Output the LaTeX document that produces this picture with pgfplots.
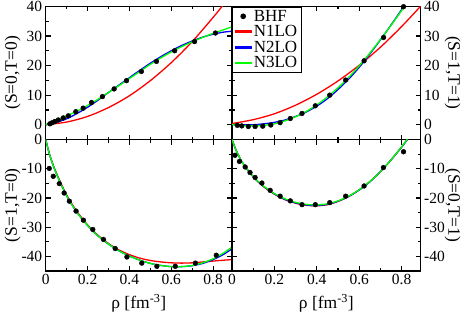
\documentclass[border=0pt]{standalone}
\usepackage{fontspec}
\setmainfont{Liberation Serif}
\usepackage{pgfplots}
\pgfplotsset{compat=1.18}
\definecolor{mygreen}{RGB}{0,255,0}
\definecolor{myred}{RGB}{255,0,0}
\definecolor{myblue}{RGB}{0,0,255}

\pgfplotsset{
  panel/.style={
    scale only axis,
    xmin=0, xmax=0.89,
    axis line style={line width=1.5pt},
    every tick/.style={line width=1.2pt, black},
    tick align=inside,
    major tick length=5pt, minor tick length=3pt,
    xtick={0,0.2,0.4,0.6,0.8}, minor xtick={0.1,0.3,0.5,0.7},
    tick label style={font=\fontsize{15.5}{15.5}\selectfont},
    /pgf/number format/assume math mode=true,
    clip=true,
  },
  leftpanel/.style={panel, width=186.3pt,
    every axis y label/.style={at={(rel axis cs:0,0.5)}, anchor=center, xshift=-33pt, rotate=90, font=\fontsize{17.5}{17.5}\selectfont}},
  rightpanel/.style={panel, width=188.7pt, yticklabel pos=right,
    every axis y label/.style={at={(rel axis cs:1,0.5)}, anchor=center, xshift=32pt, rotate=-90, font=\fontsize{17.5}{17.5}\selectfont}},
  toppanel/.style={height=133.1pt, ymin=-5, ymax=40, ytick={0,10,20,30,40}, minor ytick={5,15,25,35}, xticklabels={}},
  botpanel/.style={height=131.5pt, ymin=-45, ymax=0, ytick={-40,-30,-20,-10,0}, minor ytick={-35,-25,-15,-5},
    every axis x label/.style={at={(rel axis cs:0.5,0)}, anchor=center, yshift=-32pt, font=\fontsize{17.5}{17.5}\selectfont}},
  bhf/.style={only marks, mark=*, mark size=2.4pt, black, mark options={fill=black}},
  nA/.style={draw=myred, smooth, line width=1.3pt, no marks},
  nB/.style={draw=myblue, smooth, line width=1.3pt, no marks},
  nC/.style={draw=mygreen, smooth, line width=1.3pt, no marks},
}

\begin{document}
\begin{tikzpicture}[x=1pt,y=1pt]
\useasboundingbox (0,0) rectangle (466,314);

% ---------------- top left (S=0,T=0)
\begin{axis}[leftpanel, toppanel, at={(45.7pt,174.5pt)}, anchor=south west, ylabel={(S=0,T=0)}]
\addplot[nA] coordinates {(0,0) (0.1,0.9) (0.2,2.8) (0.3,5.8) (0.4,9.8) (0.5,14.9) (0.6,21.0) (0.7,28.1) (0.8,36.3) (0.85,40.7) (0.89,44.5)};
\addplot[nB] coordinates {(0,0) (0.05,0.8) (0.1,2.0) (0.15,3.8) (0.2,5.9) (0.25,8.3) (0.3,10.9) (0.35,13.4) (0.4,15.9) (0.45,18.4) (0.5,20.8) (0.55,23.0) (0.6,25.0) (0.65,26.8) (0.7,28.3) (0.75,29.6) (0.8,30.6) (0.85,31.3) (0.89,31.6)};
\addplot[nC] coordinates {(0,0) (0.05,1.5) (0.1,3.0) (0.15,4.6) (0.2,6.5) (0.25,8.6) (0.3,10.9) (0.35,13.2) (0.4,15.6) (0.45,18.0) (0.5,20.4) (0.55,22.6) (0.6,24.6) (0.65,26.4) (0.7,28.0) (0.75,29.5) (0.8,30.9) (0.85,32.1) (0.89,33.1)};
\addplot[bhf] coordinates {(0.020,0.3) (0.032,0.7) (0.044,1.1) (0.060,1.6) (0.084,2.3) (0.108,3.0) (0.144,4.4) (0.179,5.6) (0.219,7.5) (0.271,9.5) (0.327,12.1) (0.386,14.9) (0.457,18.0) (0.529,21.4) (0.616,25.0) (0.711,28.1) (0.811,31.0)};
\end{axis}

% ---------------- top right (S=1,T=1)
\begin{axis}[rightpanel, toppanel, at={(232pt,174.5pt)}, anchor=south west, ylabel={(S=1,T=1)},
  legend style={at={(rel axis cs:0,1)}, anchor=north west, draw=black, line width=1.2pt,
    font=\fontsize{17}{17}\selectfont, row sep=-1.2pt, inner xsep=2pt, inner ysep=1pt, cells={anchor=west}},
  legend cell align=left]
\addlegendimage{legend image code/.code={\fill[black] (8pt,0pt) circle[radius=2.2pt];}}
\addlegendimage{legend image code/.code={\fill[myred] (0pt,-0.8pt) rectangle (16pt,0.8pt);}}
\addlegendimage{legend image code/.code={\fill[myblue] (0pt,-0.8pt) rectangle (16pt,0.8pt);}}
\addlegendimage{legend image code/.code={\fill[mygreen] (0pt,-0.8pt) rectangle (16pt,0.8pt);}}
\addplot[nA, forget plot] coordinates {(0,0.4) (0.1,1.7) (0.2,3.7) (0.3,6.6) (0.4,10.3) (0.5,14.8) (0.6,20.1) (0.7,26.2) (0.8,33.2) (0.89,40.1)};
\addplot[nB, forget plot] coordinates {(0,0) (0.05,0.0) (0.1,0.0) (0.15,0.3) (0.2,0.8) (0.25,1.6) (0.3,2.8) (0.35,4.3) (0.4,6.3) (0.45,8.8) (0.5,11.9) (0.55,15.4) (0.6,19.4) (0.65,23.9) (0.7,28.7) (0.75,33.7) (0.8,38.9) (0.82,41)};
\addplot[nC, forget plot] coordinates {(0,0) (0.05,-0.3) (0.1,-0.4) (0.15,-0.2) (0.2,0.3) (0.25,1.3) (0.3,2.7) (0.35,4.5) (0.4,6.7) (0.45,9.4) (0.5,12.5) (0.55,16.0) (0.6,19.9) (0.65,24.2) (0.7,28.8) (0.75,33.6) (0.8,38.6) (0.825,41)};
\addplot[bhf, forget plot] coordinates {(0.025,-0.2) (0.046,-0.4) (0.077,-0.6) (0.109,-0.6) (0.145,-0.5) (0.183,-0.1) (0.227,0.7) (0.275,2.1) (0.330,3.8) (0.393,6.4) (0.461,10.0) (0.536,15.1) (0.623,21.6) (0.715,29.5) (0.809,39.9)};
\legend{BHF, N1LO, N2LO, N3LO}
\end{axis}

% ---------------- bottom left (S=1,T=0)
\begin{axis}[leftpanel, botpanel, at={(45.7pt,43pt)}, anchor=south west, ylabel={(S=1,T=0)}, xlabel={ρ [fm\textsuperscript{-3}]}]
\addplot[nA] coordinates {(0,0) (0.02,-5.5) (0.05,-11.3) (0.1,-19.0) (0.15,-24.7) (0.2,-29.2) (0.25,-32.8) (0.3,-35.6) (0.35,-37.8) (0.4,-39.4) (0.45,-40.6) (0.5,-41.4) (0.55,-41.9) (0.6,-42.2) (0.65,-42.3) (0.7,-42.2) (0.75,-41.9) (0.8,-41.6) (0.85,-41.3) (0.89,-41.1)};
\addplot[nB] coordinates {(0,0) (0.02,-5.5) (0.05,-11.5) (0.1,-19.3) (0.15,-25.0) (0.2,-29.4) (0.25,-33.0) (0.3,-35.8) (0.35,-38.1) (0.4,-39.9) (0.45,-41.3) (0.5,-42.4) (0.55,-43.1) (0.6,-43.5) (0.65,-43.5) (0.7,-43.2) (0.75,-42.4) (0.8,-41.1) (0.85,-39.3) (0.89,-37.4)};
\addplot[nC] coordinates {(0,0) (0.02,-5.5) (0.05,-11.5) (0.1,-19.3) (0.15,-25.0) (0.2,-29.4) (0.25,-33.0) (0.3,-35.8) (0.35,-38.1) (0.4,-39.9) (0.45,-41.3) (0.5,-42.4) (0.55,-43.1) (0.6,-43.5) (0.65,-43.5) (0.7,-43.1) (0.75,-42.2) (0.8,-40.8) (0.85,-38.8) (0.89,-36.8)};
\addplot[bhf] coordinates {(0.017,-9.9) (0.036,-12.6) (0.065,-15.1) (0.088,-18.3) (0.113,-21.1) (0.145,-24.5) (0.180,-27.6) (0.225,-30.8) (0.276,-34.2) (0.332,-37.3) (0.388,-40.2) (0.459,-42.3) (0.531,-43.4) (0.619,-43.4) (0.715,-42.3) (0.815,-39.6)};
\end{axis}

% ---------------- bottom right (S=0,T=1)
\begin{axis}[rightpanel, botpanel, at={(232pt,43pt)}, anchor=south west, ylabel={(S=0,T=1)}, xlabel={ρ [fm\textsuperscript{-3}]}]
\addplot[nA] coordinates {(0,0) (0.02,-3.8) (0.05,-8.0) (0.1,-12.8) (0.15,-16.2) (0.2,-18.7) (0.25,-20.6) (0.3,-21.8) (0.35,-22.5) (0.4,-22.7) (0.45,-22.3) (0.5,-21.2) (0.55,-19.5) (0.6,-17.2) (0.65,-14.4) (0.7,-11.0) (0.75,-7.0) (0.8,-2.6) (0.835,0.8)};
\addplot[nB] coordinates {(0,0) (0.02,-3.8) (0.05,-8.0) (0.1,-12.8) (0.15,-16.1) (0.2,-18.6) (0.25,-20.5) (0.3,-21.7) (0.35,-22.4) (0.4,-22.6) (0.45,-22.2) (0.5,-21.1) (0.55,-19.5) (0.6,-17.3) (0.65,-14.5) (0.7,-11.0) (0.75,-7.0) (0.8,-2.6) (0.835,0.8)};
\addplot[nC] coordinates {(0,0) (0.02,-3.8) (0.05,-8.0) (0.1,-12.7) (0.15,-16.0) (0.2,-18.5) (0.25,-20.3) (0.3,-21.5) (0.35,-22.2) (0.4,-22.4) (0.45,-22.0) (0.5,-21.0) (0.55,-19.4) (0.6,-17.2) (0.65,-14.4) (0.7,-11.0) (0.75,-7.0) (0.8,-2.5) (0.83,0.5)};
\addplot[bhf] coordinates {(0.014,-5.4) (0.035,-7.5) (0.062,-9.4) (0.085,-11.3) (0.109,-13.0) (0.141,-14.9) (0.180,-17.4) (0.227,-19.4) (0.275,-21.0) (0.330,-22.3) (0.393,-22.3) (0.461,-21.6) (0.536,-19.4) (0.623,-15.9) (0.714,-9.6) (0.809,-4.2)};
\end{axis}
\end{tikzpicture}
\end{document}
